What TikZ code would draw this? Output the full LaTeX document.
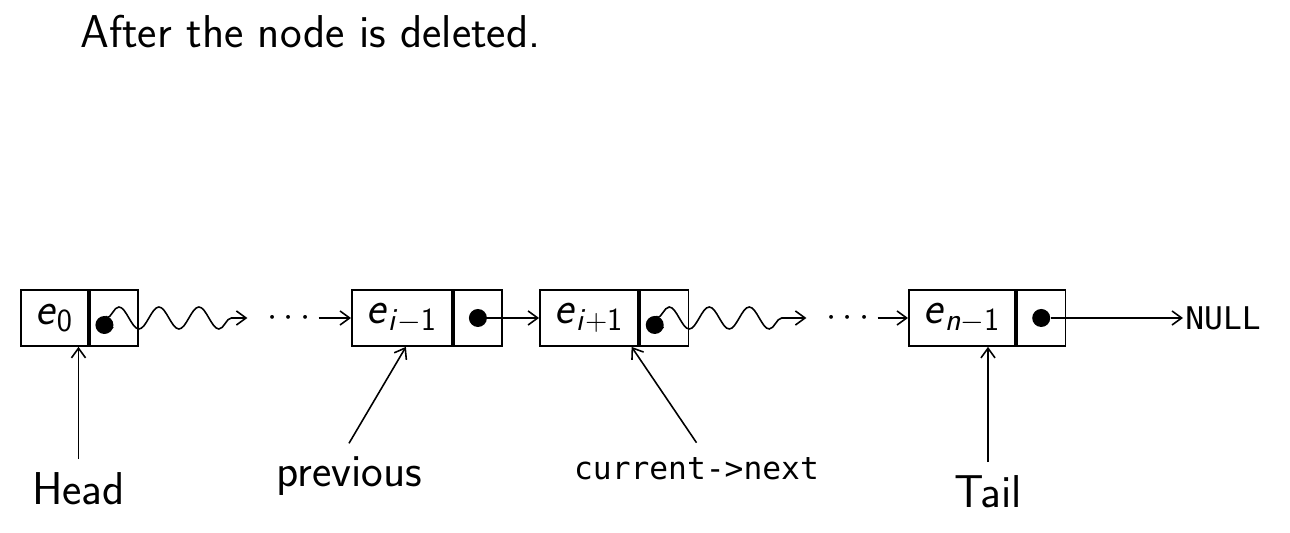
\documentclass[tikz,border=0pt]{standalone}
\usepackage{fontspec}
\setmonofont{DejaVu Sans Mono}
\usepackage{tikz}
\usetikzlibrary{arrows.meta, positioning, calc, decorations.pathmorphing}
\renewcommand{\familydefault}{\sfdefault}
\newcommand{\txtfont}{\fontsize{26.2}{30}\selectfont}
\newcommand{\codefont}{\ttfamily\fontsize{17.8}{21}\selectfont}
\newcommand{\elt}[1]{\textit{e}\textsubscript{#1}}
\tikzset{
  cellval/.style={draw, line width=1pt, minimum height=1.12cm, inner xsep=0.3cm, inner ysep=0pt, font=\txtfont},
  cellptr/.style={draw, line width=1pt, minimum height=1.12cm, minimum width=0.97cm, inner sep=0pt},
  ptrdot/.style={circle, fill, inner sep=0pt, minimum size=0.36cm},
  link/.style={line width=0.9pt, -{Straight Barb[length=5.5pt, width=8pt]}},
  wavy/.style={line width=0.9pt, {Straight Barb[length=5pt, width=7.5pt]}-{Straight Barb[length=5.5pt, width=8pt]},
    decorate, decoration={snake, amplitude=0.22cm, segment length=0.8cm, post length=0.42cm}},
  lbl/.style={font=\txtfont, inner sep=0.27cm, anchor=base},
  codelbl/.style={font=\codefont, inner sep=0.3cm, anchor=base},
  gap/.style={font=\fontsize{22}{26}\selectfont, inner xsep=0.16cm},
}

\begin{document}
\begin{tikzpicture}
\useasboundingbox (0,0) rectangle (25.8,10.66);

% ── title ────────────────────────────────────────────────────────────────────
\node[font=\txtfont, anchor=base west, inner sep=0pt] (title) at (1.6, 9.7) {After the node is deleted.};

% ── list cells ───────────────────────────────────────────────────────────────
\node[cellval, anchor=west] (e0) at (0.4, 4.3) {\elt{0}};
\node[cellptr, right=0pt of e0] (p0) {};
\node[gap] (dotsA) at (5.78, 4.3) {$\cdots$};
\node[cellval, anchor=west] (eim) at (7.02, 4.3) {\elt{\textit{i}$-$1}};
\node[cellptr, right=0pt of eim] (pim) {};
\node[cellval, right=0.72cm of pim] (eip) {\elt{\textit{i}$+$1}};
\node[cellptr, right=0pt of eip] (pip) {};
\node[gap] (dotsB) at (16.96, 4.3) {$\cdots$};
\node[cellval, anchor=west] (en) at (18.16, 4.3) {\elt{\textit{n}$-$1}};
\node[cellptr, right=0pt of en] (pn) {};
\node[font=\codefont, anchor=west, inner xsep=0.04cm] (null) at (23.66, 4.3) {NULL};

% pointer dots (the two wavy ones sit low and left)
\node[ptrdot] (d0) at ($(p0.center)+(-0.19,-0.14)$) {};
\node[ptrdot] (dim) at (pim.center) {};
\node[ptrdot] (dip) at ($(pip.center)+(-0.19,-0.14)$) {};
\node[ptrdot] (dn) at (pn.center) {};
\coordinate (w0) at ($(p0.center)+(-0.15,0)$);
\coordinate (wip) at ($(pip.center)+(-0.15,0)$);

% ── links ────────────────────────────────────────────────────────────────────
\draw[wavy, shorten >=0.24cm] (w0) -- (dotsA.west);
\draw[link] (dotsA.east) -- (eim.west);
\draw[link] (dim) -- (eip.west);
\draw[wavy, shorten >=0.24cm] (wip) -- (dotsB.west);
\draw[link] (dotsB.east) -- (en.west);
\draw[link] (dn) -- (null.west);

% ── labels ───────────────────────────────────────────────────────────────────
\node[lbl] (head) at (1.57, 0.56) {Head};
\node[lbl] (prev) at (6.98, 0.92) {previous};
\node[codelbl] (cnext) at (13.93, 1.06) {current->next};
\node[lbl] (tail) at (19.76, 0.5) {Tail};

\draw[link] (head.north) -- (head.north |- e0.south);
\draw[link] (prev.north) -- ([xshift=0.08cm]eim.south);
\draw[link] (cnext.north) -- ([xshift=-0.15cm]eip.south east);
\draw[link] (tail.north) -- (tail.north |- en.south);

\end{tikzpicture}
\end{document}
